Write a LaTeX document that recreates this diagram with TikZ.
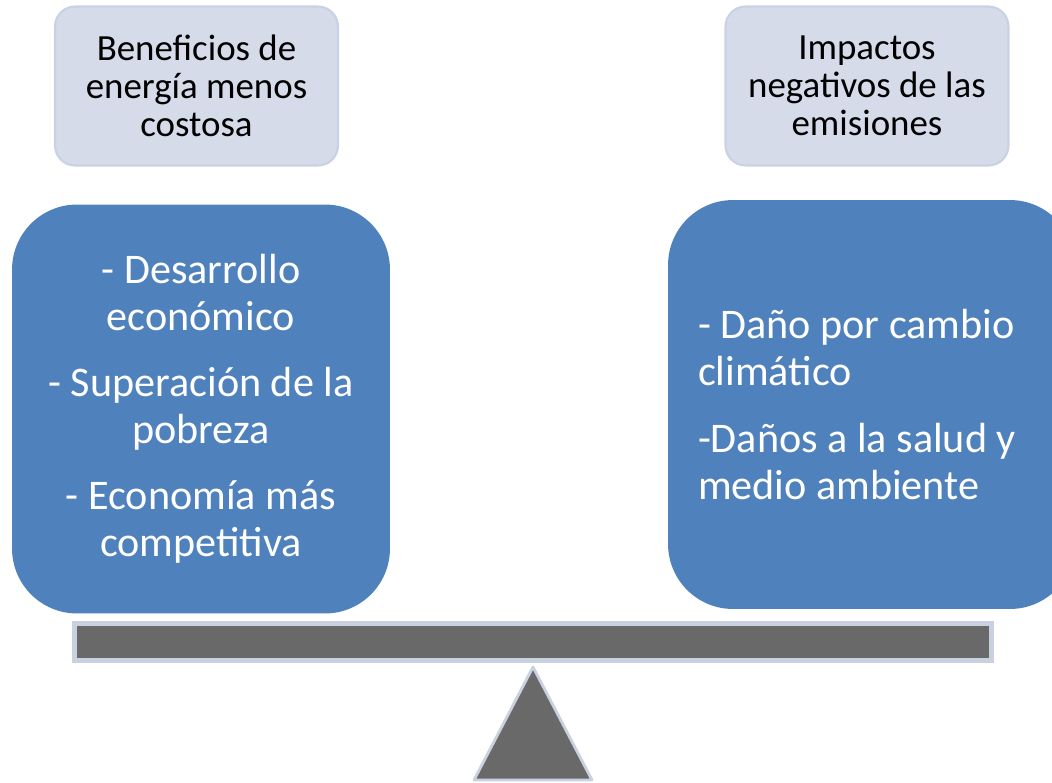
\documentclass[tikz,border=0pt]{standalone}
\usepackage{fontspec}
\setmainfont{Carlito}

\definecolor{boxblue}{HTML}{4F81BD}
\definecolor{labelfill}{HTML}{D5DBE9}
\definecolor{labeledge}{HTML}{C9D2E4}
\definecolor{beamgray}{HTML}{696969}
\definecolor{beamedge}{HTML}{C9D1E1}

\begin{document}
\begin{tikzpicture}[x=0.02cm, y=-0.02cm,
    label_box/.style={draw=labeledge, fill=labelfill, line width=1.2pt,
      rounded corners=0.4cm, minimum width=5.66cm, minimum height=3.18cm,
      inner sep=0pt, align=center, font=\fontsize{21}{21.6}\selectfont},
    weight_box/.style={fill=boxblue, rounded corners=1.3cm, inner sep=0pt,
      minimum height=8.18cm, text=white, font=\fontsize{24}{26.7}\selectfont},
    beam_part/.style={draw=beamedge, fill=beamgray, line width=2.8pt}]
  \useasboundingbox (0,0) rectangle (1052,782);

  % labels over both sides
  \node[label_box] (benefit_label) at (196.5,86) {Beneficios de\\energía menos\\costosa};
  \node[label_box] (impact_label) at (867,86) {Impactos\\negativos de las\\emisiones};

  % left weight
  \node[weight_box, minimum width=7.56cm, align=center] (benefit_box) at (201,409)
    {- Desarrollo\\económico\\[11pt]- Superación de la\\pobreza\\[11pt]- Economía más\\competitiva};

  % right weight (runs past the edge)
  \node[weight_box, minimum width=8.14cm, text width=6.94cm, align=flush left] (impact_box) at (871.5,404.5)
    {- Daño por cambio\\climático\\[11pt]-Daños a la salud y\\medio ambiente};

  % beam and pivot
  \node[beam_part, minimum width=18.36cm, minimum height=0.74cm, inner sep=0pt] (beam) at (533,642) {};
  \filldraw[beam_part, line width=1.6pt, line join=round] (533,667) -- (592,780) -- (474,780) -- cycle;
\end{tikzpicture}
\end{document}
